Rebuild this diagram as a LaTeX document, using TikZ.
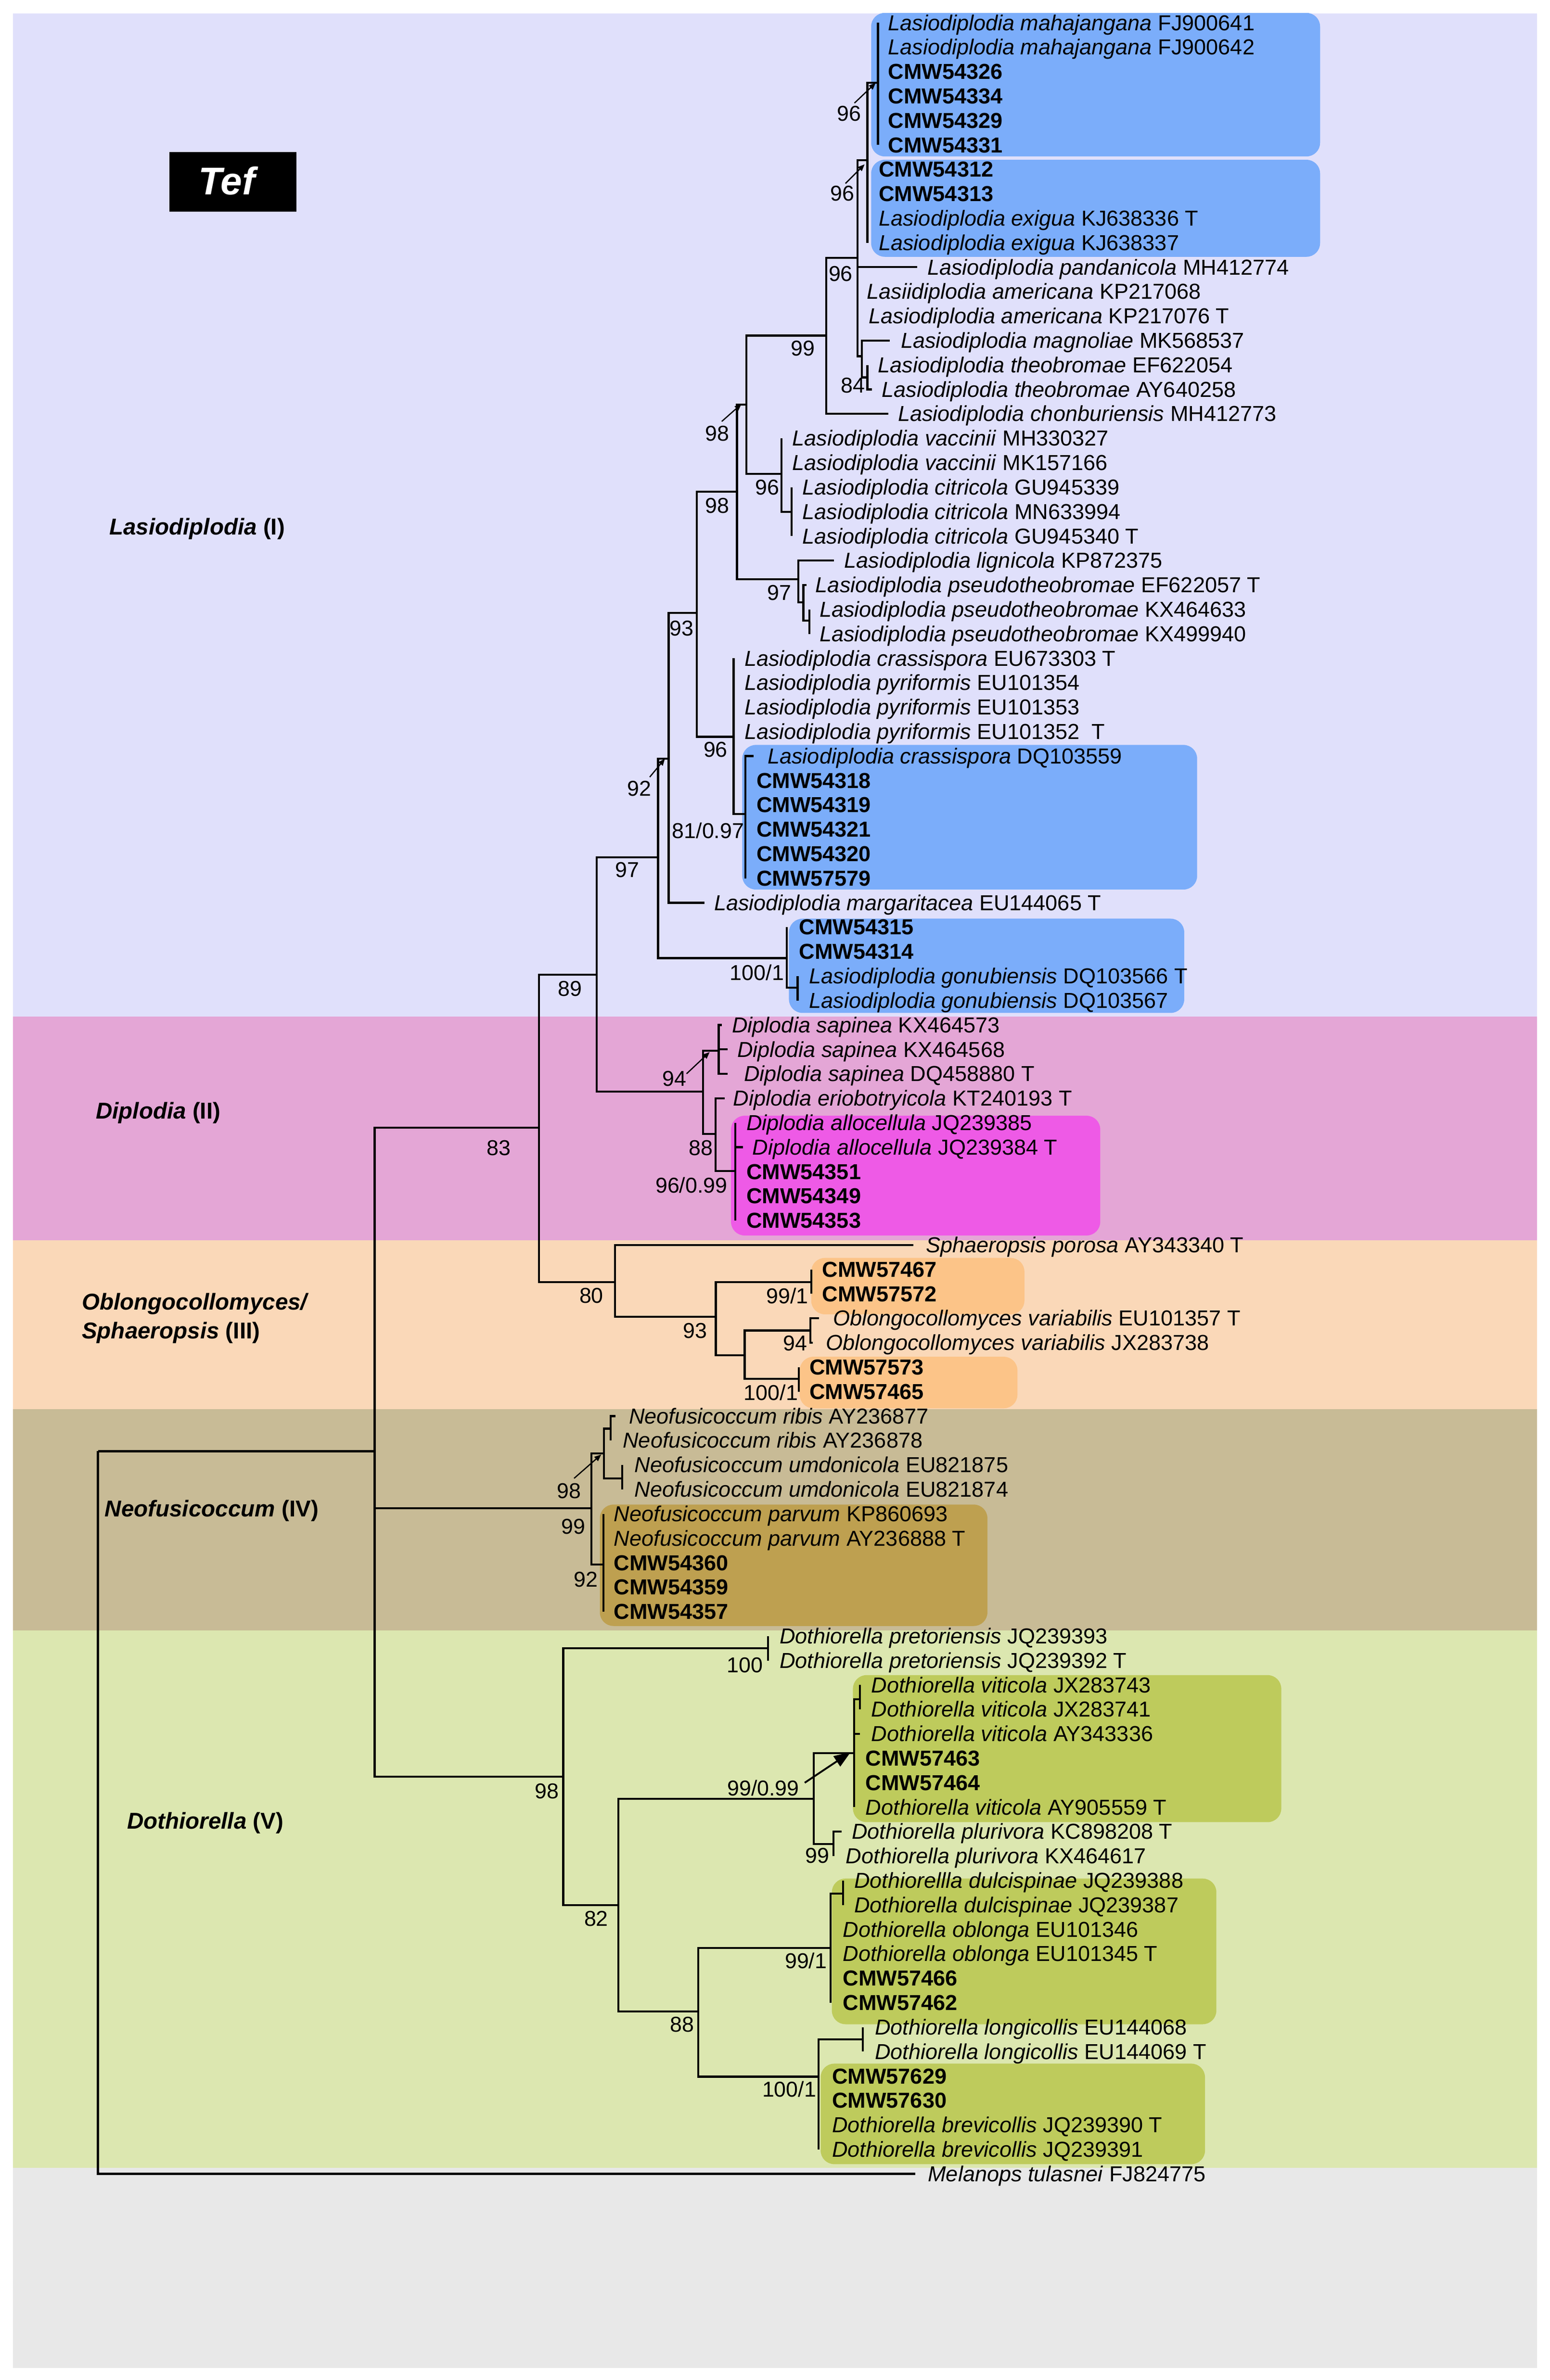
\documentclass[tikz,border=0pt]{standalone}
\usepackage{fontspec}
\setmainfont{Liberation Sans}
\usetikzlibrary{arrows.meta}
\definecolor{bandI}{RGB}{224,224,251}
\definecolor{bandII}{RGB}{228,166,214}
\definecolor{bandIII}{RGB}{250,216,184}
\definecolor{bandIV}{RGB}{200,187,150}
\definecolor{bandV}{RGB}{220,231,176}
\definecolor{bandO}{RGB}{232,232,232}
\definecolor{boxblue}{RGB}{123,173,250}
\definecolor{boxmag}{RGB}{238,90,230}
\definecolor{boxorg}{RGB}{252,196,136}
\definecolor{boxgold}{RGB}{190,160,80}
\definecolor{boxolive}{RGB}{190,203,92}
\tikzset{
 br/.style={line width=1.35pt, line join=miter},
 tx/.style={anchor=base west, inner sep=0pt, font=\fontsize{14.3}{16}\selectfont},
 sp/.style={anchor=base, inner sep=0pt, font=\fontsize{14.2}{16}\selectfont},
 grp/.style={anchor=base west, inner sep=0pt, font=\fontsize{15.1}{19}\selectfont\bfseries},
 arr/.style={line width=0.8pt, -{Triangle[length=4.5pt,width=3.6pt]}},
 bigarr/.style={line width=1.2pt, -{Triangle[length=11pt,width=8pt]}},
 hl/.style={rounded corners=9pt},
}
% leaf: index, parent, tip x, label x, text
\newcommand{\leafx}[5]{%
 \coordinate (L#1) at (#3,{15+16.125*(#1-1)});
 \draw[br] (#2) |- (L#1);
 \node[tx] (T#1) at (#4,{20+16.125*(#1-1)}) {#5};}
% support value: name, x, y(center), text
\newcommand{\bsv}[4]{\node[sp] (#1) at (#2,{#3+5}) {#4};}
\begin{document}
\begin{tikzpicture}[x=1pt,y=-1pt]
\useasboundingbox (0,0) rectangle (1022,1570);
\fill[white] (0,0) rectangle (1022,1570);
% bands
\fill[bandI] (8.5,8.8) rectangle (1013.5,670.7);
\fill[bandII] (8.5,670.7) rectangle (1013.5,818);
\fill[bandIII] (8.5,818) rectangle (1013.5,929.5);
\fill[bandIV] (8.5,929.5) rectangle (1013.5,1075.5);
\fill[bandV] (8.5,1075.5) rectangle (1013.5,1430);
\fill[bandO] (8.5,1430) rectangle (1013.5,1562);
% highlight boxes
\fill[boxblue,hl] (574.5,8.5) rectangle (870.6,103.2);
\fill[boxblue,hl] (574.5,105.4) rectangle (870.6,169.4);
\fill[boxblue,hl] (489.5,491.4) rectangle (789.5,586.8);
\fill[boxblue,hl] (520.3,606) rectangle (781,668.2);
\fill[boxmag,hl] (482.1,736) rectangle (725.6,815);
\fill[boxorg,hl] (535,829.8) rectangle (675.6,867);
\fill[boxorg,hl] (527.4,895) rectangle (671,929);
\fill[boxgold,hl] (395.6,992.5) rectangle (651.2,1072.6);
\fill[boxolive,hl] (562.5,1105) rectangle (845,1202);
\fill[boxolive,hl] (548.6,1239.2) rectangle (802.2,1335.3);
\fill[boxolive,hl] (541.2,1361.3) rectangle (794.7,1427.6);
% Tef label
\node[fill=black, minimum width=83.8pt, minimum height=39.1pt, inner sep=0pt, anchor=north west] (tefbox) at (111.6,100.2) {};
\node[anchor=base, inner sep=0pt, text=white, font=\fontsize{25.5}{28}\selectfont\bfseries\itshape] (teftext) at (149.5,128.5) {Tef};
% group labels
\node[grp] (gI) at (71.9,352.8) {\textit{Lasiodiplodia} (I)};
\node[grp] (gII) at (63,738) {\textit{Diplodia} (II)};
\node[grp] (gIIIa) at (53.8,864) {\textit{Oblongocollomyces/}};
\node[grp] (gIIIb) at (53.8,883) {\textit{Sphaeropsis} (III)};
\node[grp] (gIV) at (68.9,1000.5) {\textit{Neofusicoccum} (IV)};
\node[grp] (gV) at (83.6,1206.6) {\textit{Dothiorella} (V)};
% internal nodes
\coordinate (R0) at (64.6,957.3);
\coordinate (I0) at (247.1,957.3);
\coordinate (n83) at (355.4,744);
\coordinate (n89) at (393.5,643);
\coordinate (nO) at (434,565.6);
\coordinate (nN) at (441,500.5);
\coordinate (nK) at (459.5,404.4);
\coordinate (nG) at (486,324.4);
\coordinate (nF) at (492.2,267);
\coordinate (nE) at (545,221.4);
\coordinate (nB) at (565.6,170);
\coordinate (nA) at (572,105.7);
\coordinate (nM1) at (579,54.7);
\coordinate (nC) at (568.5,235);
\coordinate (nD) at (572,249);
\coordinate (nJ) at (515.3,312.7);
\coordinate (nJc) at (522,337.6);
\coordinate (nH) at (526.4,382.1);
\coordinate (nI) at (529.8,397.3);
\coordinate (nI2) at (533.7,409.5);
\coordinate (nL) at (483.8,486);
\coordinate (nM) at (491.6,537);
\coordinate (nP) at (519,632);
\coordinate (nP2) at (526,651.5);
\coordinate (nR) at (463.7,720);
\coordinate (nRs) at (474,693);
\coordinate (nR88) at (472,748);
\coordinate (nRa) at (485,772.4);
\coordinate (n80) at (405.5,845.8);
\coordinate (nT) at (472.1,868.6);
\coordinate (nU) at (535,845.8);
\coordinate (nV) at (491.1,894);
\coordinate (nW) at (534.5,877.7);
\coordinate (nX) at (526.8,909.5);
\coordinate (nY) at (390,994.9);
\coordinate (nZ) at (398.4,958.7);
\coordinate (nZr) at (402.7,942.4);
\coordinate (nZu) at (410.4,975.2);
\coordinate (nYp) at (397.9,1032);
\coordinate (nAA) at (371.5,1172);
\coordinate (npre) at (506.6,1087.3);
\coordinate (nBB) at (407.8,1256.8);
\coordinate (nCC) at (536.6,1186.5);
\coordinate (nDD) at (563.2,1156.4);
\coordinate (nDDa) at (567.1,1121);
\coordinate (nPL) at (549.6,1216.4);
\coordinate (nEE) at (460.5,1326.9);
\coordinate (nFF) at (547.7,1285.1);
\coordinate (nFFd) at (556.1,1249.2);
\coordinate (nGG) at (539.9,1369.9);
\coordinate (nGGl) at (569.1,1345.4);
% internal branches
\draw[br] (R0) |- (I0);
\draw[br] (I0) |- (n83);
\draw[br] (I0) |- (nY);
\draw[br] (I0) |- (nAA);
\draw[br] (n83) |- (n89);
\draw[br] (n83) |- (n80);
\draw[br] (n89) |- (nO);
\draw[br] (n89) |- (nR);
\draw[br] (nO) |- (nN);
\draw[br] (nO) |- (nP);
\draw[br] (nN) |- (nK);
\draw[br] (nK) |- (nG);
\draw[br] (nK) |- (nL);
\draw[br] (nG) |- (nF);
\draw[br] (nG) |- (nH);
\draw[br] (nF) |- (nE);
\draw[br] (nF) |- (nJ);
\draw[br] (nE) |- (nB);
\draw[br] (nB) |- (nA);
\draw[br] (nB) |- (nC);
\draw[br] (nA) |- (nM1);
\draw[br] (nC) |- (nD);
\draw[br] (nJ) |- (nJc);
\draw[br] (nH) |- (nI);
\draw[br] (nI) |- (nI2);
\draw[br] (nL) |- (nM);
\draw[br] (nP) |- (nP2);
\draw[br] (nR) |- (nRs);
\draw[br] (nR) |- (nR88);
\draw[br] (nR88) |- (nRa);
\draw[br] (n80) |- (nT);
\draw[br] (nT) |- (nU);
\draw[br] (nT) |- (nV);
\draw[br] (nV) |- (nW);
\draw[br] (nV) |- (nX);
\draw[br] (nY) |- (nZ);
\draw[br] (nY) |- (nYp);
\draw[br] (nZ) |- (nZr);
\draw[br] (nZ) |- (nZu);
\draw[br] (nAA) |- (npre);
\draw[br] (nAA) |- (nBB);
\draw[br] (nBB) |- (nCC);
\draw[br] (nBB) |- (nEE);
\draw[br] (nCC) |- (nDD);
\draw[br] (nCC) |- (nPL);
\draw[br] (nDD) |- (nDDa);
\draw[br] (nEE) |- (nFF);
\draw[br] (nEE) |- (nGG);
\draw[br] (nFF) |- (nFFd);
\draw[br] (nGG) |- (nGGl);
% leaves
\leafx{1}{nM1}{579}{585.5}{\textit{Lasiodiplodia mahajangana} FJ900641}
\leafx{2}{nM1}{579}{585.5}{\textit{Lasiodiplodia mahajangana} FJ900642}
\leafx{3}{nM1}{579}{585.5}{\textbf{CMW54326}}
\leafx{4}{nM1}{579}{585.5}{\textbf{CMW54334}}
\leafx{5}{nM1}{579}{585.5}{\textbf{CMW54329}}
\leafx{6}{nM1}{579}{585.5}{\textbf{CMW54331}}
\leafx{7}{nA}{572}{579.4}{\textbf{CMW54312}}
\leafx{8}{nA}{572}{579.4}{\textbf{CMW54313}}
\leafx{9}{nA}{572}{579.4}{\textit{Lasiodiplodia exigua} KJ638336 T}
\leafx{10}{nA}{572}{579.4}{\textit{Lasiodiplodia exigua} KJ638337}
\leafx{11}{nB}{605}{611.4}{\textit{Lasiodiplodia pandanicola} MH412774}
\leafx{12}{nB}{565.6}{571.6}{\textit{Lasiidiplodia americana} KP217068}
\leafx{13}{nB}{565.6}{572.8}{\textit{Lasiodiplodia americana} KP217076 T}
\leafx{14}{nC}{586.7}{593.9}{\textit{Lasiodiplodia magnoliae} MK568537}
\leafx{15}{nD}{572}{578.9}{\textit{Lasiodiplodia theobromae} EF622054}
\leafx{16}{nD}{575}{581.4}{\textit{Lasiodiplodia theobromae} AY640258}
\leafx{17}{nE}{586}{592}{\textit{Lasiodiplodia chonburiensis} MH412773}
\leafx{18}{nJ}{515.3}{522.4}{\textit{Lasiodiplodia vaccinii} MH330327}
\leafx{19}{nJ}{515.3}{522.4}{\textit{Lasiodiplodia vaccinii} MK157166}
\leafx{20}{nJc}{522}{529}{\textit{Lasiodiplodia citricola} GU945339}
\leafx{21}{nJc}{522}{529}{\textit{Lasiodiplodia citricola} MN633994}
\leafx{22}{nJc}{522}{529}{\textit{Lasiodiplodia citricola} GU945340 T}
\leafx{23}{nH}{550}{556.6}{\textit{Lasiodiplodia lignicola} KP872375}
\leafx{24}{nI}{532}{537.7}{\textit{Lasiodiplodia pseudotheobromae} EF622057 T}
\leafx{25}{nI2}{533.7}{540.3}{\textit{Lasiodiplodia pseudotheobromae} KX464633}
\leafx{26}{nI2}{533.7}{540.3}{\textit{Lasiodiplodia pseudotheobromae} KX499940}
\leafx{27}{nL}{483.8}{490.8}{\textit{Lasiodiplodia crassispora} EU673303 T}
\leafx{28}{nL}{483.8}{490.8}{\textit{Lasiodiplodia pyriformis} EU101354}
\leafx{29}{nL}{483.8}{490.8}{\textit{Lasiodiplodia pyriformis} EU101353}
\leafx{30}{nL}{483.8}{490.8}{\textit{Lasiodiplodia pyriformis} EU101352\ \ T}
\leafx{31}{nM}{497}{506.1}{\textit{Lasiodiplodia crassispora} DQ103559}
\leafx{32}{nM}{491.6}{498.7}{\textbf{CMW54318}}
\leafx{33}{nM}{491.6}{498.7}{\textbf{CMW54319}}
\leafx{34}{nM}{491.6}{498.7}{\textbf{CMW54321}}
\leafx{35}{nM}{491.6}{498.7}{\textbf{CMW54320}}
\leafx{36}{nM}{491.6}{498.7}{\textbf{CMW57579}}
\leafx{37}{nN}{464.5}{470.8}{\textit{Lasiodiplodia margaritacea} EU144065 T}
\leafx{38}{nP}{519}{526.9}{\textbf{CMW54315}}
\leafx{39}{nP}{519}{526.9}{\textbf{CMW54314}}
\leafx{40}{nP2}{526}{533.4}{\textit{Lasiodiplodia gonubiensis} DQ103566 T}
\leafx{41}{nP2}{526}{533.4}{\textit{Lasiodiplodia gonubiensis} DQ103567}
\leafx{42}{nRs}{476}{482.6}{\textit{Diplodia sapinea} KX464573}
\leafx{43}{nRs}{480}{486}{\textit{Diplodia sapinea} KX464568}
\leafx{44}{nRs}{480}{490.5}{\textit{Diplodia sapinea} DQ458880 T}
\leafx{45}{nR88}{478}{483.4}{\textit{Diplodia eriobotryicola} KT240193 T}
\leafx{46}{nRa}{485}{492.1}{\textit{Diplodia allocellula} JQ239385}
\leafx{47}{nRa}{490}{496.1}{\textit{Diplodia allocellula} JQ239384 T}
\leafx{48}{nRa}{485}{492.1}{\textbf{CMW54351}}
\leafx{49}{nRa}{485}{492.1}{\textbf{CMW54349}}
\leafx{50}{nRa}{485}{492.1}{\textbf{CMW54353}}
\leafx{51}{n80}{602.5}{610.4}{\textit{Sphaeropsis porosa} AY343340 T}
\leafx{52}{nU}{535}{542.1}{\textbf{CMW57467}}
\leafx{53}{nU}{535}{542.1}{\textbf{CMW57572}}
\leafx{54}{nW}{540}{549.2}{\textit{Oblongocollomyces variabilis} EU101357 T}
\leafx{55}{nW}{536}{544.4}{\textit{Oblongocollomyces variabilis} JX283738}
\leafx{56}{nX}{526.8}{533.6}{\textbf{CMW57573}}
\leafx{57}{nX}{526.8}{533.6}{\textbf{CMW57465}}
\leafx{58}{nZr}{406}{414.6}{\textit{Neofusicoccum ribis} AY236877}
\leafx{59}{nZr}{402.7}{410.6}{\textit{Neofusicoccum ribis} AY236878}
\leafx{60}{nZu}{410.4}{418.3}{\textit{Neofusicoccum umdonicola} EU821875}
\leafx{61}{nZu}{410.4}{418.3}{\textit{Neofusicoccum umdonicola} EU821874}
\leafx{62}{nYp}{397.9}{404.7}{\textit{Neofusicoccum parvum} KP860693}
\leafx{63}{nYp}{397.9}{404.7}{\textit{Neofusicoccum parvum} AY236888 T}
\leafx{64}{nYp}{397.9}{404.7}{\textbf{CMW54360}}
\leafx{65}{nYp}{397.9}{404.7}{\textbf{CMW54359}}
\leafx{66}{nYp}{397.9}{404.7}{\textbf{CMW54357}}
\leafx{67}{npre}{506.6}{514}{\textit{Dothiorella pretoriensis} JQ239393}
\leafx{68}{npre}{506.6}{514}{\textit{Dothiorella pretoriensis} JQ239392 T}
\leafx{69}{nDDa}{567.1}{574.5}{\textit{Dothiorella viticola} JX283743}
\leafx{70}{nDDa}{567.1}{574.5}{\textit{Dothiorella viticola} JX283741}
\leafx{71}{nDD}{567.1}{574.5}{\textit{Dothiorella viticola} AY343336}
\leafx{72}{nDD}{563.2}{570.7}{\textbf{CMW57463}}
\leafx{73}{nDD}{563.2}{570.7}{\textbf{CMW57464}}
\leafx{74}{nDD}{563.2}{570.7}{\textit{Dothiorella viticola} AY905559 T}
\leafx{75}{nPL}{555}{561.6}{\textit{Dothiorella plurivora} KC898208 T}
\leafx{76}{nPL}{549.6}{557.7}{\textit{Dothiorella plurivora} KX464617}
\leafx{77}{nFFd}{556.1}{563.2}{\textit{Dothiorellla dulcispinae} JQ239388}
\leafx{78}{nFFd}{556.1}{563.2}{\textit{Dothiorella dulcispinae} JQ239387}
\leafx{79}{nFF}{547.7}{555.7}{\textit{Dothiorella oblonga} EU101346}
\leafx{80}{nFF}{547.7}{555.7}{\textit{Dothiorella oblonga} EU101345 T}
\leafx{81}{nFF}{547.7}{555.7}{\textbf{CMW57466}}
\leafx{82}{nFF}{547.7}{555.7}{\textbf{CMW57462}}
\leafx{83}{nGGl}{569.1}{576.8}{\textit{Dothiorella longicollis} EU144068}
\leafx{84}{nGGl}{569.1}{576.8}{\textit{Dothiorella longicollis} EU144069 T}
\leafx{85}{nGG}{539.9}{548.6}{\textbf{CMW57629}}
\leafx{86}{nGG}{539.9}{548.6}{\textbf{CMW57630}}
\leafx{87}{nGG}{539.9}{548.6}{\textit{Dothiorella brevicollis} JQ239390 T}
\leafx{88}{nGG}{539.9}{548.6}{\textit{Dothiorella brevicollis} JQ239391}
\leafx{89}{R0}{603.7}{611.8}{\textit{Melanops tulasnei} FJ824775}
% support values
\bsv{s1}{560}{74.7}{96}
\bsv{s2}{555.5}{127.6}{96}
\bsv{s3}{554.4}{180.4}{96}
\bsv{s4}{529.6}{229.6}{99}
\bsv{s5}{562.6}{254.2}{84}
\bsv{s6}{473}{286}{98}
\bsv{s7}{473}{333.5}{98}
\bsv{s8}{506}{321.4}{96}
\bsv{s9}{514}{391}{97}
\bsv{s10}{449.5}{414.5}{93}
\bsv{s11}{471.9}{494.4}{96}
\bsv{s12}{467}{548}{81/0.97}
\bsv{s13}{421.5}{520}{92}
\bsv{s14}{413.7}{573.6}{97}
\bsv{s15}{499.2}{641.5}{100/1}
\bsv{s16}{375.8}{652}{89}
\bsv{s17}{329}{757}{83}
\bsv{s18}{444.7}{711.3}{94}
\bsv{s19}{462.1}{757}{88}
\bsv{s20}{456}{782}{96/0.99}
\bsv{s21}{390}{854.5}{80}
\bsv{s22}{458.5}{877.7}{93}
\bsv{s23}{519.2}{855}{99/1}
\bsv{s24}{524.5}{885.9}{94}
\bsv{s25}{508.4}{918.6}{100/1}
\bsv{s26}{375.2}{983.3}{98}
\bsv{s27}{378}{1007}{99}
\bsv{s28}{386.5}{1041.7}{92}
\bsv{s29}{360.8}{1181.6}{98}
\bsv{s30}{491.3}{1098.2}{100}
\bsv{s31}{393.2}{1265.7}{82}
\bsv{s32}{503.3}{1179.7}{99/0.99}
\bsv{s33}{539}{1224}{99}
\bsv{s34}{449.8}{1335.3}{88}
\bsv{s35}{531.5}{1293.5}{99/1}
\bsv{s36}{520.5}{1378.3}{100/1}
% pointer arrows
\coordinate (a1s) at (563.5,68);   \coordinate (a1e) at (577.5,54.7);
\coordinate (a2s) at (557.6,121);  \coordinate (a2e) at (570.2,108.4);
\coordinate (a3s) at (476,278);    \coordinate (a3e) at (489,266.5);
\coordinate (a4s) at (428.5,512.6);\coordinate (a4e) at (438.5,500.5);
\coordinate (a5s) at (452.8,708.3);\coordinate (a5e) at (468,694);
\coordinate (a6s) at (378.6,975.2);\coordinate (a6e) at (396.5,959.5);
\coordinate (a7s) at (530.7,1176); \coordinate (a7e) at (561,1155.8);
\draw[arr] (a1s) -- (a1e);
\draw[arr] (a2s) -- (a2e);
\draw[arr] (a3s) -- (a3e);
\draw[arr] (a4s) -- (a4e);
\draw[arr] (a5s) -- (a5e);
\draw[arr] (a6s) -- (a6e);
\draw[bigarr] (a7s) -- (a7e);
\end{tikzpicture}
\end{document}
